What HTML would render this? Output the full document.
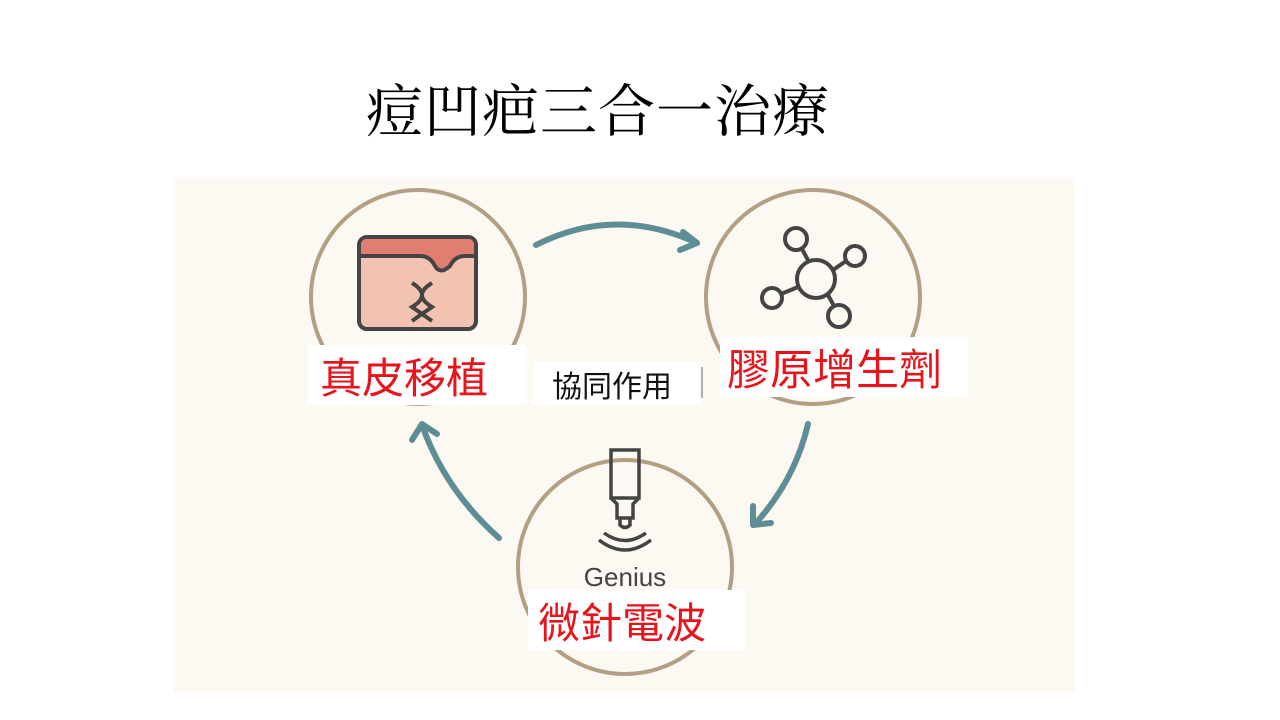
<!DOCTYPE html>
<html><head><meta charset="utf-8"><style>
body{margin:0;width:1280px;height:720px;background:#fff;overflow:hidden;position:relative;font-family:"Liberation Sans","Noto Sans CJK TC",sans-serif}
.t{position:absolute;left:366px;top:66px;font-family:"Liberation Serif","Noto Serif CJK SC",serif;font-size:57px;color:#000;white-space:nowrap;letter-spacing:1px}
.box{position:absolute;background:#fff;color:#e8141c;font-size:42px;white-space:nowrap;display:flex;align-items:center;box-sizing:border-box}
</style></head><body>
<svg width="1280" height="720" style="position:absolute;left:0;top:0">
<rect x="174" y="177" width="901" height="516" fill="#fcf8f2"/>
<g fill="none" stroke="#b3a083" stroke-width="4">
<circle cx="418" cy="297" r="107"/>
<circle cx="813" cy="297" r="107"/>
<circle cx="625" cy="567" r="107"/>
</g>
<g fill="none" stroke="#5e8e95" stroke-width="6" stroke-linecap="round" stroke-linejoin="round">
<path d="M536 245 Q615 205 697 243"/><path d="M683 232 L697 243 L680 250"/>
<path d="M808 424 Q795 480 755 524"/><path d="M753 506 L753 525 L771 523"/>
<path d="M499 538 Q445 490 422 425"/><path d="M412 440 L422 424 L437 434"/>
</g>
<rect x="359" y="237" width="117" height="92" rx="8" fill="#f2c3b0" stroke="#444" stroke-width="4"/>
<path d="M361 256 L420 256 Q430 256 435 266 Q440 275 450 266 Q455 256 465 256 L474 256 L474 245 Q474 239 468 239 L367 239 Q361 239 361 245 Z" fill="#e07e72"/>
<path d="M361 256 L420 256 Q430 256 435 266 Q440 275 450 266 Q455 256 465 256 L474 256" fill="none" stroke="#444" stroke-width="4"/>
<path d="M412 283 Q432 295 412 307 Q425 316 432 321 M432 283 Q412 295 432 307 Q419 316 412 321" fill="none" stroke="#444" stroke-width="4"/>
<g fill="none" stroke="#444" stroke-width="4">
<circle cx="816" cy="279" r="19"/><circle cx="796" cy="239" r="11"/><circle cx="855" cy="256" r="10"/><circle cx="772" cy="298" r="10"/><circle cx="839" cy="316" r="11"/>
<path d="M802 249 L809 262 M846 261 L833 270 M781 294 L798 287 M828 295 L834 306"/>
</g>
<g fill="none" stroke="#444" stroke-width="3.5">
<rect x="611" y="450" width="28" height="48"/>
<path d="M611 498 L617 504 L617 518 L633 518 L633 504 L639 498 M620 518 L620 525 Q625 530 630 525 L630 518"/>
<path d="M604 533 Q625 548 646 533 M599 540 Q625 560 651 540"/>
</g>
<text x="625" y="586" font-family="Liberation Sans,DejaVu Sans,sans-serif" font-size="26" fill="#444" text-anchor="middle">Genius</text>
<line x1="702" y1="367" x2="702" y2="398" stroke="#999" stroke-width="1.5"/>
</svg>
<div class="t">痘凹疤三合一治療</div>
<div class="box" style="left:308px;top:345px;width:219px;height:60px;padding-left:12px">真皮移植</div>
<div class="box" style="left:533px;top:362px;width:167px;height:43px;color:#111;font-size:30px;padding-left:19px">協同作用</div>
<div class="box" style="left:720px;top:337px;width:248px;height:60px;padding-left:7px;font-size:43px">膠原增生劑</div>
<div class="box" style="left:528px;top:590px;width:217px;height:60px;padding-left:10px">微針電波</div>
</body></html>
